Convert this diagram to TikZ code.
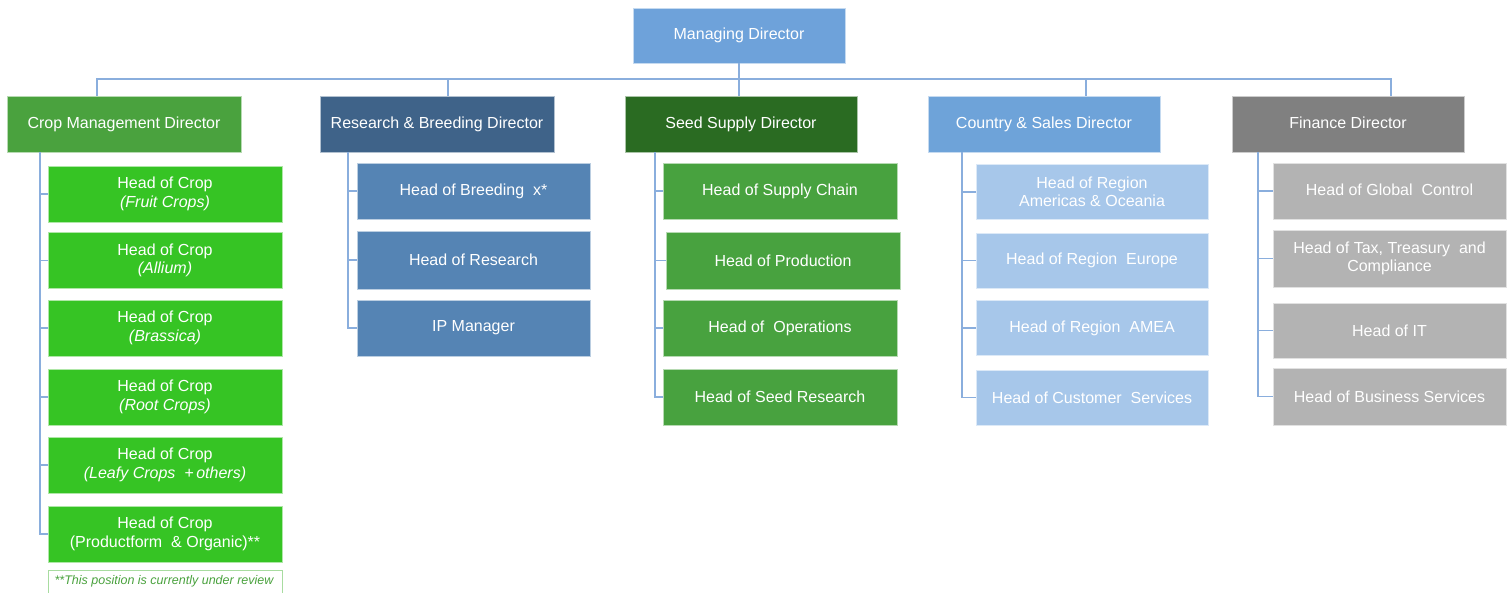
\documentclass[tikz,border=0pt]{standalone}
\usepackage{fontspec}
\setmainfont{Liberation Sans}
\definecolor{lineblue}{HTML}{8AAEDD}
\definecolor{mdblue}{HTML}{6EA2DA}
\definecolor{cropgreen}{HTML}{4AA23E}
\definecolor{cropchild}{HTML}{36C424}
\definecolor{resdir}{HTML}{3F6389}
\definecolor{reschild}{HTML}{5584B4}
\definecolor{seeddir}{HTML}{2A6B22}
\definecolor{seedchild}{HTML}{48A23F}
\definecolor{ctrydir}{HTML}{6EA3D9}
\definecolor{ctrychild}{HTML}{A7C7EA}
\definecolor{findir}{HTML}{808080}
\definecolor{finchild}{HTML}{B3B3B3}
\definecolor{notegreen}{HTML}{4AA23E}
\definecolor{noteborder}{HTML}{A8DCA0}
\begin{document}
\begin{tikzpicture}[x=1pt,y=-1pt,
  box/.style={rectangle, draw=white!60!#1, line width=0.6pt, fill=#1, text=white, align=center,
    font=\fontsize{16}{18.5}\selectfont, inner sep=0pt},
  dirbox/.style={box=#1, minimum width=232pt, minimum height=56pt},
  kid/.style={box=#1, minimum width=234pt, minimum height=56pt},
  conn/.style={draw=lineblue, line width=1.3pt}]
\clip (0,0) rectangle (1511,592);
\useasboundingbox (0,0) rectangle (1511,592);
\fill[white] (0,0) rectangle (1511,592);

% top
\node[box=mdblue, minimum width=212pt, minimum height=55pt] (md) at (739,35.5) {Managing Director};

% directors
\node[dirbox=cropgreen, minimum width=234pt] (crop) at (124,124) {Crop Management Director};
\node[dirbox=resdir, minimum width=234pt] (res) at (437,124) {Research \& Breeding Director};
\node[dirbox=seeddir] (seed) at (741,124) {Seed Supply Director};
\node[dirbox=ctrydir] (ctry) at (1044,124) {Country \& Sales Director};
\node[dirbox=findir] (fin) at (1348,124) {Finance Director\vphantom{g}};

% bus
\coordinate (b1) at (97,79);
\coordinate (b2) at (448,79);
\coordinate (b3) at (739,79);
\coordinate (b4) at (1086,79);
\coordinate (b5) at (1391,79);
\draw[conn] (md.south) -- (b3);
\draw[conn] (b1 |- crop.north) -- (b1) -- (b5) -- (b5 |- fin.north);
\draw[conn] (b2) -- (b2 |- res.north);
\draw[conn] (b3) -- (b3 |- seed.north);
\draw[conn] (b4) -- (b4 |- ctry.north);

% crop children
\node[kid=cropchild] (c1) at (165,194) {Head of Crop\\\textit{(Fruit Crops)}};
\node[kid=cropchild] (c2) at (165,260.5) {Head of Crop\\\textit{(Allium)}};
\node[kid=cropchild] (c3) at (165,328) {Head of Crop\\\textit{(Brassica)}};
\node[kid=cropchild] (c4) at (165,397) {Head of Crop\\\textit{(Root Crops)}};
\node[kid=cropchild] (c5) at (165,465) {Head of Crop\\\textit{(Leafy Crops \ +\,others)}};
\node[kid=cropchild] (c6) at (165,534) {Head of Crop\\(Productform \ \& Organic)**};
\node[rectangle, draw=noteborder, line width=0.8pt, fill=white, minimum width=234pt, minimum height=30pt,
  anchor=north, inner sep=0pt] (note) at (165,570) {};
\node[text=notegreen, font=\fontsize{12.5}{14}\selectfont\itshape, anchor=center] (notetxt) at (164,581) {**This position is currently under review};

% research children
\node[kid=reschild, minimum width=233pt] (r1) at (473.5,191) {Head of Breeding \ x*};
\node[kid=reschild, minimum width=233pt, minimum height=58pt] (r2) at (473.5,260) {Head of Research};
\node[kid=reschild, minimum width=233pt] (r3) at (473.5,328) {IP Manager};

% seed supply children
\node[kid=seedchild] (s1) at (780,191) {Head of Supply Chain};
\node[kid=seedchild, minimum height=57pt] (s2) at (783,260.5) {Head of Production};
\node[kid=seedchild] (s3) at (780,328) {Head of \ Operations};
\node[kid=seedchild] (s4) at (780,397) {Head of Seed Research};

% country children
\node[kid=ctrychild, minimum width=232pt, minimum height=55pt] (k1) at (1092,192) {Head of Region\\Americas \& Oceania};
\node[kid=ctrychild, minimum width=232pt, minimum height=55pt] (k2) at (1092,260.5) {Head of Region \ Europe};
\node[kid=ctrychild, minimum width=232pt, minimum height=55pt] (k3) at (1092,328) {Head of Region \ AMEA};
\node[kid=ctrychild, minimum width=232pt, minimum height=55pt] (k4) at (1092,397.5) {Head of Customer \ Services};

% finance children
\node[kid=finchild, minimum width=233pt] (f1) at (1389.5,191) {Head of Global \ Control\vphantom{g}};
\node[kid=finchild, minimum width=233pt, minimum height=57pt] (f2) at (1389.5,258.5) {Head of Tax, Treasury \ and\\Compliance};
\node[kid=finchild, minimum width=233pt, minimum height=55pt] (f3) at (1389.5,330.5) {Head of IT};
\node[kid=finchild, minimum width=233pt, minimum height=57pt] (f4) at (1389.5,396.5) {Head of Business Services};

% spines
\coordinate (sp1) at (40,152);
\coordinate (sp2) at (348,152);
\coordinate (sp3) at (655,152);
\coordinate (sp4) at (962,152);
\coordinate (sp5) at (1258,152);

\draw[conn] (sp1 |- crop.south) |- (c6.west);
\foreach \n in {c1,c2,c3,c4,c5} \draw[conn] (sp1 |- \n.west) -- (\n.west);
\draw[conn] (sp2 |- res.south) |- (r3.west);
\foreach \n in {r1,r2} \draw[conn] (sp2 |- \n.west) -- (\n.west);
\draw[conn] (sp3 |- seed.south) |- (s4.west);
\foreach \n in {s1,s2,s3} \draw[conn] (sp3 |- \n.west) -- (\n.west);
\draw[conn] (sp4 |- ctry.south) |- (k4.west);
\foreach \n in {k1,k2,k3} \draw[conn] (sp4 |- \n.west) -- (\n.west);
\draw[conn] (sp5 |- fin.south) |- (f4.west);
\foreach \n in {f1,f2,f3} \draw[conn] (sp5 |- \n.west) -- (\n.west);
\end{tikzpicture}
\end{document}
